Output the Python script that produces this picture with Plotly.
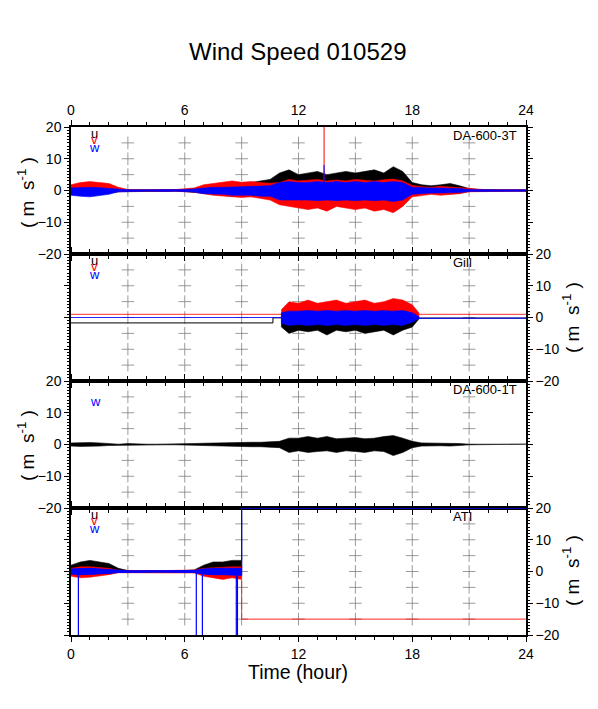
import plotly.graph_objects as go

# ---------------- data ----------------
HOURS = [0, 0.5, 1, 1.5, 2, 2.5, 3, 3.5, 4, 4.5, 5, 5.5, 6, 6.5, 7, 7.5, 8, 8.5, 9,
         9.5, 10, 10.5, 11, 11.5, 12, 12.5, 13, 13.5, 14, 14.5, 15, 15.5, 16, 16.5,
         17, 17.5, 18, 18.5, 19, 19.5, 20, 20.5, 21, 21.5, 22, 22.5, 23, 23.5, 24]

# Panel 1: DA-600-3T (envelopes of u, v, w)
DA3_U_UP = [0.8, 1.0, 1.2, 1.0, 0.8, 0.3, 0.2, 0.2, 0.2, 0.2, 0.2, 0.2, 0.3, 0.5, 0.8, 1.0, 1.2, 1.5, 2.0,
            2.5, 3.0, 3.5, 5.5, 6.5, 5.0, 5.5, 6.0, 5.0, 5.5, 6.0, 5.5, 6.0, 6.5, 5.5, 7.5, 6.0, 2.5, 1.8,
            1.5, 1.8, 2.2, 1.5, 0.6, 0.3, 0.2, 0.2, 0.2, 0.2, 0.2]
DA3_U_LO = [-0.8, -1.0, -1.5, -1.2, -0.8, -0.4, -0.2, -0.2, -0.2, -0.2, -0.2, -0.2, -0.3, -0.5, -1.0, -1.2,
            -1.5, -1.8, -1.5, -1.8, -2.0, -2.0, -3.0, -3.5, -3.5, -3.0, -3.5, -3.0, -3.5, -3.0, -3.5, -3.0,
            -3.5, -3.0, -3.5, -3.0, -1.5, -1.0, -1.0, -1.0, -1.0, -0.8, -0.3, -0.2, -0.2, -0.2, -0.2, -0.2, -0.2]
DA3_V_UP = [1.8, 2.5, 2.8, 2.6, 2.2, 1.0, 0.3, 0.2, 0.3, 0.2, 0.3, 0.3, 0.5, 0.8, 1.8, 2.2, 2.5, 3.0, 2.6,
            2.8, 2.5, 2.3, 2.5, 3.5, 3.0, 3.2, 3.5, 3.0, 3.3, 3.0, 3.5, 3.2, 3.0, 3.4, 3.6, 3.0, 1.6, 1.2,
            1.0, 1.3, 1.1, 0.9, 0.5, 0.3, 0.2, 0.3, 0.2, 0.2, 0.2]
DA3_V_LO = [-0.8, -1.0, -1.2, -1.0, -0.8, -0.4, -0.2, -0.3, -0.2, -0.2, -0.3, -0.2, -0.4, -0.5, -1.0, -1.5,
            -1.8, -2.0, -2.2, -2.0, -2.5, -3.0, -4.5, -5.0, -5.5, -6.0, -5.5, -6.5, -5.0, -5.5, -6.0, -5.5,
            -6.5, -6.0, -7.0, -5.0, -2.0, -1.5, -1.2, -1.5, -1.2, -1.0, -0.4, -0.3, -0.2, -0.2, -0.3, -0.2, -0.2]
DA3_W_UP = [0.8, 1.0, 1.0, 0.9, 0.7, 0.3, 0.2, 0.2, 0.2, 0.2, 0.2, 0.2, 0.3, 0.5, 0.8, 1.0, 1.0, 1.2, 1.2,
            1.3, 1.5, 1.5, 2.5, 2.8, 2.5, 2.5, 2.8, 2.5, 2.8, 2.5, 2.8, 2.5, 2.8, 2.5, 2.8, 2.5, 1.0, 0.8,
            0.8, 0.8, 0.8, 0.6, 0.3, 0.2, 0.2, 0.2, 0.2, 0.2, 0.2]
DA3_W_LO = [-1.5, -1.8, -2.0, -1.6, -1.2, -0.4, -0.3, -0.3, -0.2, -0.2, -0.3, -0.2, -0.3, -0.5, -1.0, -1.2,
            -1.2, -1.5, -1.5, -1.5, -1.8, -1.8, -3.0, -3.2, -3.0, -3.0, -3.2, -3.0, -3.2, -3.0, -3.2, -3.0,
            -3.2, -3.0, -3.5, -3.0, -1.2, -1.0, -0.8, -0.8, -0.8, -0.6, -0.3, -0.2, -0.2, -0.2, -0.2, -0.2, -0.2]
DA3_SPIKE_T = [13.35]
DA3_SPIKE_V = [20.0]
DA3_SPIKE_W = [8.0]

# Panel 2: Gill
GILL_T = [0, 10.65, 10.65, 11.1, 11.1, 11.5, 12, 12.5, 13, 13.5, 14, 14.5, 15, 15.5, 16, 16.5,
          17, 17.5, 18, 18.35, 18.35, 24]
GILL_U_UP = [-1.7, -1.7, -0.1, -0.1, 1.0, 1.5, 1.3, 1.5, 1.3, 1.5, 1.3, 1.5, 1.3, 1.5, 1.3, 1.5,
             1.3, 1.5, 1.0, 0.2, -0.2, -0.2]
GILL_U_LO = [-1.7, -1.7, -0.1, -0.1, -3.0, -5.0, -4.0, -4.5, -4.0, -5.5, -4.0, -4.5, -4.0, -5.0,
             -4.5, -4.0, -5.5, -4.0, -3.0, -0.5, -0.2, -0.2]
GILL_V_UP = [1.0, 1.0, 1.0, 1.0, 2.5, 5.0, 4.5, 5.5, 4.5, 5.0, 5.5, 4.5, 5.0, 5.5, 4.5, 5.0,
             6.0, 5.5, 4.0, 1.5, 1.0, 1.0]
GILL_V_LO = [1.0, 1.0, 1.0, 1.0, -0.5, -1.0, -0.8, -1.0, -0.8, -1.0, -0.8, -1.0, -0.8, -1.0,
             -0.8, -1.0, -0.8, -1.0, -0.8, 0.2, 1.0, 1.0]
GILL_W_UP = [0.0, 0.0, 0.0, 0.0, 1.5, 2.0, 2.0, 2.2, 2.0, 2.2, 2.0, 2.2, 2.0, 2.2, 2.0, 2.2,
             2.0, 2.2, 1.5, 0.3, -0.2, -0.2]
GILL_W_LO = [0.0, 0.0, 0.0, 0.0, -1.8, -2.5, -2.2, -2.5, -2.2, -2.5, -2.2, -2.5, -2.2, -2.5,
             -2.2, -2.5, -2.2, -2.5, -1.5, -0.3, -0.2, -0.2]

# Panel 3: DA-600-1T (single series)
DA1_UP = [0.5, 0.6, 0.6, 0.5, 0.3, 0.1, 0.3, 0.1, 0.1, 0.1, 0.1, 0.1, 0.2, 0.3, 0.4, 0.5, 0.6, 0.5, 0.6,
          0.7, 0.7, 0.8, 1.0, 2.0, 2.0, 2.5, 2.0, 2.5, 1.8, 2.0, 2.2, 1.8, 2.0, 2.5, 2.8, 2.0, 1.0, 0.5,
          0.5, 0.4, 0.5, 0.3, 0.1, 0.1, 0.1, 0.1, 0.1, 0.1, 0.1]
DA1_LO = [-0.5, -0.6, -0.6, -0.5, -0.3, -0.1, -0.3, -0.1, -0.1, -0.1, -0.1, -0.1, -0.2, -0.3, -0.4, -0.5,
          -0.6, -0.5, -0.6, -0.7, -0.7, -0.8, -1.0, -2.5, -2.0, -2.5, -2.2, -2.0, -2.5, -2.0, -2.2, -2.5,
          -2.0, -2.2, -3.5, -2.5, -1.0, -0.5, -0.5, -0.4, -0.5, -0.3, -0.1, -0.1, -0.1, -0.1, -0.1, -0.1, -0.1]

# Panel 4: ATI (0-9 h envelopes, then constant levels)
ATI_T = [0, 0.5, 1, 1.5, 2, 2.5, 3, 3.5, 4, 4.5, 5, 5.5, 6, 6.5, 7, 7.5, 8, 8.5, 9, 9.0, 24]
ATI_U_UP = [2.0, 3.0, 3.5, 3.0, 2.5, 1.0, 0.3, 0.3, 0.3, 0.2, 0.3, 0.2, 0.3, 0.5, 2.0, 3.0, 3.0, 3.5, 3.5, 20, 20]
ATI_U_LO = [-0.8, -1.0, -1.0, -0.8, -0.6, -0.3, -0.2, -0.2, -0.2, -0.2, -0.2, -0.2, -0.3, -0.3, -0.8, -1.0,
            -1.0, -1.2, -1.2, 20, 20]
ATI_V_UP = [1.0, 1.5, 1.5, 1.3, 1.0, 0.4, 0.3, 0.3, 0.3, 0.2, 0.3, 0.3, 0.5, 0.5, 1.0, 1.2, 1.2, 1.5, 1.5, -15, -15]
ATI_V_LO = [-1.5, -2.0, -1.8, -1.5, -1.0, -0.4, -0.3, -0.3, -0.3, -0.3, -0.3, -0.5, -0.5, -0.5, -1.5, -2.0,
            -2.5, -2.0, -2.5, -15, -15]
ATI_W_UP = [0.8, 1.0, 1.0, 0.8, 0.6, 0.3, 0.2, 0.2, 0.2, 0.2, 0.2, 0.2, 0.2, 0.3, 0.8, 1.0, 1.0, 1.0, 1.0, 20, 20]
ATI_W_LO = [-0.8, -1.0, -1.0, -0.8, -0.6, -0.3, -0.2, -0.2, -0.2, -0.2, -0.2, -0.2, -0.2, -0.3, -0.8, -1.0,
            -1.0, -1.0, -1.2, 20, 20]
ATI_W_DROP_T = [0.39, 6.61, 6.93, 8.72, 8.78]
ATI_W_DROP_V = [-20, -20, -20, -20, -20]

PANEL_NAMES = ["DA-600-3T", "Gill", "DA-600-1T", "ATI"]
X_TICKS = [0, 6, 12, 18, 24]
GRID_X = [3, 6, 9, 12, 15, 18, 21]
GRID_Y = [-15, -10, -5, 0, 5, 10, 15]

BLACK, RED, BLUE = "#000000", "#ff0000", "#0000ff"
FONT = "Liberation Sans, Arial, Helvetica, sans-serif"

fig = go.Figure()


def band(t, up, lo, color, n, lw=0.6):
    x = list(t) + list(t)[::-1]
    y = list(up) + list(lo)[::-1]
    fig.add_trace(go.Scatter(x=x, y=y, mode="lines", fill="toself", fillcolor=color,
                             line=dict(color=color, width=lw), hoverinfo="skip",
                             showlegend=False, xaxis=f"x{n}", yaxis=f"y{n}"))


def spikes(ts, v0, vs, color, n, lw=1):
    xs, ys = [], []
    for t, v in zip(ts, vs):
        xs += [t, t, None]
        ys += [v0, v, None]
    fig.add_trace(go.Scatter(x=xs, y=ys, mode="lines", line=dict(color=color, width=lw),
                             hoverinfo="skip", showlegend=False, xaxis=f"x{n}", yaxis=f"y{n}"))


def crosses(n):
    xs, ys = [], []
    for gx in GRID_X:
        for gy in GRID_Y:
            xs.append(gx)
            ys.append(gy)
    fig.add_trace(go.Scatter(x=xs, y=ys, mode="markers",
                             marker=dict(symbol="cross-thin-open", size=9, color="#808080",
                                         line=dict(color="#808080", width=0.8)),
                             hoverinfo="skip", showlegend=False, xaxis=f"x{n}", yaxis=f"y{n}"))


for n in range(1, 5):
    crosses(n)

# Panel 1
band(HOURS, DA3_U_UP, DA3_U_LO, BLACK, 1)
band(HOURS, DA3_V_UP, DA3_V_LO, RED, 1)
spikes(DA3_SPIKE_T, 0, DA3_SPIKE_V, RED, 1)
band(HOURS, DA3_W_UP, DA3_W_LO, BLUE, 1)
spikes(DA3_SPIKE_T, 0, DA3_SPIKE_W, BLUE, 1)
# Panel 2
band(GILL_T, GILL_U_UP, GILL_U_LO, BLACK, 2, lw=0.6)
band(GILL_T, GILL_V_UP, GILL_V_LO, RED, 2, lw=0.5)
band(GILL_T, GILL_W_UP, GILL_W_LO, BLUE, 2, lw=0.6)
# Panel 3
band(HOURS, DA1_UP, DA1_LO, BLACK, 3)
# Panel 4
band(ATI_T, ATI_U_UP, ATI_U_LO, BLACK, 4)
band(ATI_T, ATI_V_UP, ATI_V_LO, RED, 4, lw=0.5)
band(ATI_T, ATI_W_UP, ATI_W_LO, BLUE, 4, lw=1.0)
spikes(ATI_W_DROP_T, 0, ATI_W_DROP_V, BLUE, 4, lw=1.2)

# page body has an 8px margin: plot area spans x 71..526, y 127..635 in the window
layout = dict(
    width=590, height=701,
    margin=dict(l=63, r=72, t=119, b=74),
    paper_bgcolor="white", plot_bgcolor="white",
    font=dict(family=FONT, color="black", size=14),
    showlegend=False,
)

domains = [[0.75, 1.0], [0.5, 0.75], [0.25, 0.5], [0.0, 0.25]]
for i in range(4):
    n = i + 1
    sfx = "" if n == 1 else str(n)
    xa = dict(range=[0, 24], tickvals=X_TICKS, ticks="outside", ticklen=5, tickwidth=1,
              tickcolor="black", minor=dict(dtick=1, tick0=0, ticks="outside", ticklen=3,
                                            tickcolor="black", tickwidth=1),
              showline=True, linecolor="black", linewidth=1.5, mirror="ticks",
              showgrid=False, zeroline=False, anchor=f"y{sfx}", domain=[0, 1],
              tickfont=dict(size=14), fixedrange=True)
    if n == 1:
        xa.update(side="top", showticklabels=True)
    elif n == 4:
        xa.update(side="bottom", showticklabels=True)
    else:
        xa.update(showticklabels=False)
    if n > 1:
        xa["matches"] = "x"
    ya = dict(range=[-20, 20], tickvals=[-20, -10, 0, 10, 20], ticks="outside", ticklen=5,
              tickwidth=1, tickcolor="black",
              minor=dict(dtick=1, tick0=0, ticks="outside", ticklen=2.5, tickcolor="black",
                         tickwidth=0.8),
              showline=True, linecolor="black", linewidth=1.5, mirror="ticks",
              showgrid=False, zeroline=False, anchor=f"x{sfx}", domain=domains[i],
              side="left" if n in (1, 3) else "right", tickfont=dict(size=14), fixedrange=True)
    layout[f"xaxis{sfx}"] = xa
    layout[f"yaxis{sfx}"] = ya

# positions below are given in window pixels and converted to paper coords
PX0, PX1, PY0, PY1 = 71, 526, 127, 635


def px(xp):
    return (xp - PX0) / (PX1 - PX0)


def py(yp):
    return (PY1 - yp) / (PY1 - PY0)


ann = []
ann.append(dict(text="Wind Speed 010529", xref="paper", yref="paper", x=px(298), y=py(51),
                xanchor="center", yanchor="middle", showarrow=False, font=dict(size=24)))
ann.append(dict(text="Time (hour)", xref="paper", yref="paper", x=px(298),
                y=py(672), xanchor="center", yanchor="middle", showarrow=False,
                font=dict(size=19.5)))
ycent = [193, 318, 446, 571]
for i in range(4):
    xpos = px(26) if i in (0, 2) else px(571)
    ann.append(dict(text="( m  s<sup>-1</sup> )", xref="paper", yref="paper", x=xpos,
                    y=py(ycent[i]), xanchor="center", yanchor="middle", textangle=-90,
                    showarrow=False, font=dict(size=19)))
for i, name in enumerate(PANEL_NAMES):
    sfx = "" if i == 0 else str(i + 1)
    ann.append(dict(text=name, xref=f"x{sfx}", yref=f"y{sfx}", x=20.05, y=17.2,
                    xanchor="left", yanchor="middle", showarrow=False, font=dict(size=13)))
# component labels
for i in (0, 1, 3):
    sfx = "" if i == 0 else str(i + 1)
    for txt, yy, col in (("u", 17.8, BLACK), ("v", 16.0, RED), ("w", 13.7, BLUE)):
        ann.append(dict(text=txt, xref=f"x{sfx}", yref=f"y{sfx}", x=1.25, y=yy,
                        xanchor="center", yanchor="middle", showarrow=False,
                        font=dict(size=13, color=col)))
ann.append(dict(text="w", xref="x3", yref="y3", x=1.3, y=13.5, xanchor="center",
                yanchor="middle", showarrow=False, font=dict(size=13, color=BLUE)))
layout["annotations"] = ann

fig.update_layout(**layout)
fig.write_html("out.html")
